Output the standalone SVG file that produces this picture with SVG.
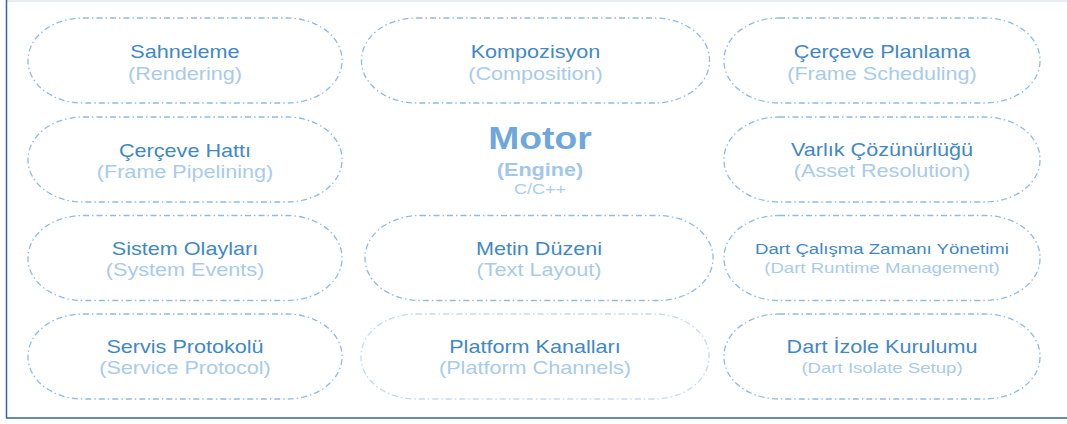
<svg xmlns="http://www.w3.org/2000/svg" width="1067" height="424" viewBox="0 0 1067 424">
<style>
.pill{fill:none;stroke:#8fbbe2;stroke-width:1.3;stroke-dasharray:6 3 1.5 3}
.faint{stroke:#c3daef}
text{font-family:"Liberation Sans",Arial,sans-serif;text-anchor:middle}
.t{font-size:18px;fill:#3f88c8}
.s{font-size:18px;fill:#a8cbec}
.ts{font-size:15.5px}
.ss{font-size:15.5px}
.m{font-size:31px;font-weight:bold;fill:#6ea7dc}
.e{font-size:18px;font-weight:bold;fill:#a2c7ea}
.c{font-size:15px;fill:#abcdee}
</style>
<rect width="1067" height="424" fill="#ffffff"/>
<line x1="7" y1="1" x2="1067" y2="1" stroke="#dfe7ef" stroke-width="1.5"/>
<line x1="6.5" y1="0" x2="6.5" y2="418" stroke="#2f65a1" stroke-width="1.5"/>
<line x1="6" y1="418" x2="1067" y2="418" stroke="#2f65a1" stroke-width="1.5"/>
<g id="connectors"></g>
<g id="rendering">
<rect class="pill" x="28" y="18" width="314" height="85" rx="55" ry="42"/>
<text class="t" transform="translate(185 57.5) scale(1.2 1)">Sahneleme</text>
<text class="s" transform="translate(185 79.5) scale(1.2 1)">(Rendering)</text>
</g>
<g id="composition">
<rect class="pill" x="361.5" y="18" width="348" height="85" rx="55" ry="42"/>
<text class="t" transform="translate(535.5 57.5) scale(1.2 1)">Kompozisyon</text>
<text class="s" transform="translate(535.5 79.5) scale(1.2 1)">(Composition)</text>
</g>
<g id="frame-scheduling">
<rect class="pill" x="724" y="18" width="316" height="85" rx="55" ry="42"/>
<text class="t" transform="translate(882 57.5) scale(1.2 1)">Çerçeve Planlama</text>
<text class="s" transform="translate(882 79.5) scale(1.2 1)">(Frame Scheduling)</text>
</g>
<g id="frame-pipelining">
<rect class="pill" x="28" y="117" width="314" height="85" rx="55" ry="42"/>
<text class="t" transform="translate(185 156.5) scale(1.2 1)">Çerçeve Hattı</text>
<text class="s" transform="translate(185 177.5) scale(1.2 1)">(Frame Pipelining)</text>
</g>
<g id="engine">
<text class="m" transform="translate(540 149) scale(1.2 1)">Motor</text>
<text class="e" transform="translate(540 176) scale(1.2 1)">(Engine)</text>
<text class="c" transform="translate(540 194) scale(1.2 1)">C/C++</text>
</g>
<g id="asset-resolution">
<rect class="pill" x="724" y="117" width="316" height="85" rx="55" ry="42"/>
<text class="t" transform="translate(882 156) scale(1.2 1)">Varlık Çözünürlüğü</text>
<text class="s" transform="translate(882 177) scale(1.2 1)">(Asset Resolution)</text>
</g>
<g id="system-events">
<rect class="pill" x="28" y="215.5" width="314" height="85" rx="55" ry="42"/>
<text class="t" transform="translate(185 254.5) scale(1.2 1)">Sistem Olayları</text>
<text class="s" transform="translate(185 275.5) scale(1.2 1)">(System Events)</text>
</g>
<g id="text-layout">
<rect class="pill" x="365" y="215.5" width="348" height="85" rx="55" ry="42"/>
<text class="t" transform="translate(539 254.5) scale(1.2 1)">Metin Düzeni</text>
<text class="s" transform="translate(539 275.5) scale(1.2 1)">(Text Layout)</text>
</g>
<g id="dart-runtime">
<rect class="pill" x="724" y="215.5" width="316" height="85" rx="55" ry="42"/>
<text class="t ts" transform="translate(882 254) scale(1.2 1)">Dart Çalışma Zamanı Yönetimi</text>
<text class="s ss" transform="translate(882 273) scale(1.2 1)">(Dart Runtime Management)</text>
</g>
<g id="service-protocol">
<rect class="pill" x="28" y="314" width="314" height="85" rx="55" ry="42"/>
<text class="t" transform="translate(185 353) scale(1.2 1)">Servis Protokolü</text>
<text class="s" transform="translate(185 374) scale(1.2 1)">(Service Protocol)</text>
</g>
<g id="platform-channels">
<rect class="pill faint" x="361" y="314" width="348" height="85" rx="55" ry="42"/>
<text class="t" transform="translate(535 352.5) scale(1.2 1)">Platform Kanalları</text>
<text class="s" transform="translate(535 373.5) scale(1.2 1)">(Platform Channels)</text>
</g>
<g id="dart-isolate">
<rect class="pill" x="724" y="314" width="316" height="85" rx="55" ry="42"/>
<text class="t" transform="translate(882 353) scale(1.2 1)">Dart İzole Kurulumu</text>
<text class="s ss" transform="translate(882 373) scale(1.2 1)">(Dart Isolate Setup)</text>
</g>
</svg>
